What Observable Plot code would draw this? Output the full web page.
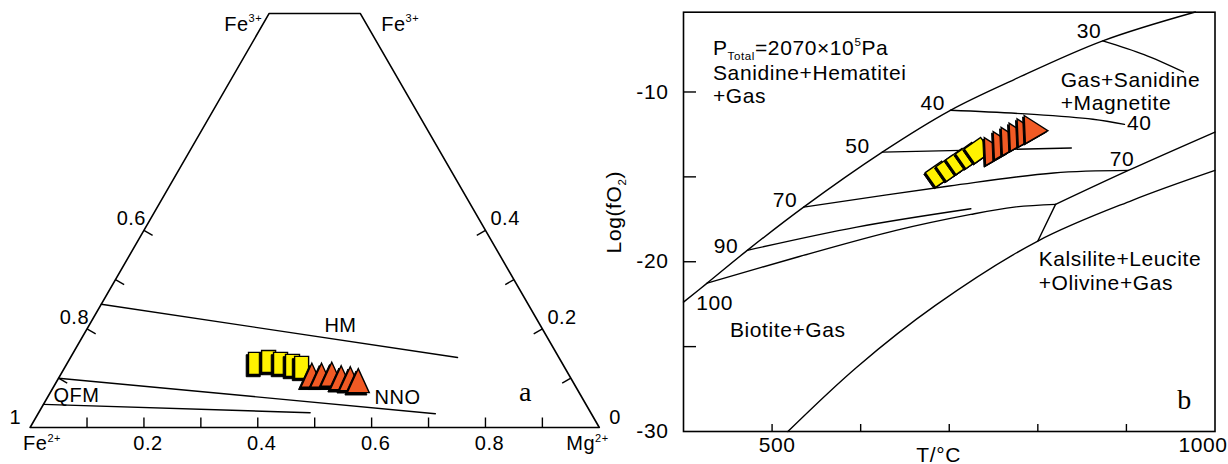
<!DOCTYPE html>
<html><head><meta charset="utf-8">
<script src="https://cdn.jsdelivr.net/npm/d3@7"></script>
<script src="https://cdn.jsdelivr.net/npm/@observablehq/plot@0.6"></script>
<style>
html,body{margin:0;padding:0;background:#fff;}
#wrap{display:flex;width:1228px;height:464px;}
#wrap svg{flex:none;overflow:visible;background:transparent;}
</style></head><body><div id="wrap"></div>
<script>
// ================= Panel a : Fe3+ - Fe2+ - Mg2+ ternary =================
// compositions as (Mg fraction, Fe3+ fraction); Fe2+ = 1 - Mg - Fe3+
const outlineMg  = [0, 1, 0.16, 0, 0];
const outlineFe3 = [0, 0, 0.84, 0.84, 0];
const hmMg  = [0, 0.68],  hmFe3  = [0.25, 0.142];
const nnoMg = [0, 0.698], nnoFe3 = [0.10, 0.028];
const qfmMg = [0, 0.477], qfmFe3 = [0.047, 0.030];
const baseTicks = [0.1,0.2,0.3,0.4,0.5,0.6,0.7,0.8,0.9];
const baseLabelVals = [0.2,0.4,0.6,0.8];
const baseLabels = ["0.2","0.4","0.6","0.8"];
const sideTicks = [0.1,0.2,0.3,0.4];
const sideLabelVals = [0.2,0.4];
const leftLabels = ["0.8","0.6"];
const rightLabels = ["0.2","0.4"];
const sqA_Mg  = [0.331,0.352,0.375,0.398,0.416];
const sqA_Fe3 = [0.130,0.134,0.130,0.126,0.122];
const trA_Mg  = [0.443,0.460,0.477,0.497,0.514,0.530];
const trA_Fe3 = [0.104,0.104,0.106,0.099,0.097,0.093];

// ================= Panel b : T vs log(fO2) =================
const topT = [400,426.7,472,535.6,624.4,701.3,773.3,873.3,977.8];
const topY = [-22.38,-21.26,-19.33,-16.78,-13.54,-11.08,-9.27,-6.99,-5.29];
const iso30T = [873.3,920,964.4],          iso30Y = [-6.99,-7.8,-8.82];
const iso40T = [701.3,795.6,862.2,897.8],  iso40Y = [-11.08,-11.32,-11.61,-11.91];
const iso50T = [624.4,837.8],              iso50Y = [-13.54,-13.30];
const iso70T = [535.6,700,817.8,902.2],    iso70Y = [-16.78,-15.54,-14.77,-14.62];
const iso90T = [472,595.6,724.4],          iso90Y = [-19.33,-17.96,-16.88];
const iso100T = [426.7,528.9,640,724.4,773.3,820], iso100Y = [-21.26,-19.72,-18.15,-17.21,-16.78,-16.62];
const rightT = [820,902.2,1000],           rightY = [-16.62,-14.62,-12.36];
const linkT = [820,800],                   linkY = [-16.62,-18.78];
const lowT = [517.8,595.6,684.4,800,906.7,1000], lowY = [-30,-26.21,-22.57,-18.78,-16.38,-14.62];
const xTicksB = [500,600,700,800,900];
const yTicksB = [-10,-15,-20,-25];
const yLabelValsB = [-10,-20,-30];
const yLabelsB = ["-10","-20","-30"];
const sqB_T = [688,700,711,722,732];
const sqB_Y = [-14.85,-14.5,-14.1,-13.75,-13.45];
const trB_T = [748,758,767,776,785,793];
const trB_Y = [-13.45,-13.1,-12.85,-12.6,-12.35,-12.15];

const YELLOW = "#FFF200", RED = "#F15A24";
const FONT = "'Liberation Sans', Arial, sans-serif";
const SERIF = "'Liberation Serif', 'Times New Roman', serif";

// ---------- helpers ----------
const S3 = Math.sqrt(3) / 2;
const tern = (mg, fe3) => ({mg, fe3});
const zipT = (a, b) => a.map((v, i) => tern(v, b[i]));
const zipP = (a, b) => a.map((v, i) => ({t: v, y: b[i]}));
const TX = d => d.mg + d.fe3 / 2;
const TY = d => d.fe3 * S3;

function poly(pts, deg = 0) {
  const a = deg * Math.PI / 180, c = Math.cos(a), s = Math.sin(a);
  return {draw(ctx) {
    pts.forEach(([x, y], i) => {
      const X = x * c - y * s, Y = x * s + y * c;
      i ? ctx.lineTo(X, Y) : ctx.moveTo(X, Y);
    });
    ctx.closePath();
  }};
}
function stacked(data, x, y, symbol, fill, off) {
  return data.flatMap(d => [
    Plot.dot([d], {x, y, symbol, fill: "black", stroke: "black", strokeWidth: 1, dx: -off, dy: off}),
    Plot.dot([d], {x, y, symbol, fill, stroke: "black", strokeWidth: 1.4})
  ]);
}
function richText(svg) {
  svg.querySelectorAll("text").forEach(t => {
    const s = t.textContent;
    if (!/[\^_]\{/.test(s)) return;
    const fs = parseFloat(getComputedStyle(t).fontSize);
    t.textContent = "";
    const re = /([\^_])\{([^}]*)\}/g;
    let last = 0, m, shift = 0;
    const add = (str, kind) => {
      const ts = document.createElementNS("http://www.w3.org/2000/svg", "tspan");
      const target = kind === "^" ? -0.42 * fs : kind === "_" ? 0.25 * fs : 0;
      if (target !== shift) ts.setAttribute("dy", target - shift);
      shift = target;
      if (kind) ts.setAttribute("font-size", 0.55 * fs);
      ts.textContent = str;
      t.appendChild(ts);
    };
    while ((m = re.exec(s))) {
      if (m.index > last) add(s.slice(last, m.index), null);
      add(m[2], m[1]);
      last = re.lastIndex;
    }
    if (last < s.length) add(s.slice(last), null);
  });
}

// ---------- panel a ----------
const L = 569.2, X0 = 29.6, BASE = 427, TICK = 10 / L;
const squareA = poly([[-7,-11],[7,-11],[7,11],[-7,11]]);
const triA = poly([[0,-13],[11,11],[-11,11]]);
const topLeft = tern(0, 0.84), topRight = tern(0.16, 0.84);

const svgA = Plot.plot({
  width: 620, height: 464, margin: 0,
  x: {domain: [0, 1], range: [X0, X0 + L], axis: null},
  y: {domain: [0, S3], range: [BASE, BASE - L * S3], axis: null},
  style: {fontFamily: FONT, fontSize: "20px", color: "black", background: "transparent", overflow: "visible", letterSpacing: "0.5px"},
  marks: [
    Plot.line(zipT(outlineMg, outlineFe3), {x: TX, y: TY, stroke: "black", strokeWidth: 1.6}),
    Plot.link(baseTicks, {x1: v => v, x2: v => v, y1: 0, y2: TICK, stroke: "black", strokeWidth: 1.4}),
    Plot.link(sideTicks, {x1: v => v / 2, y1: v => v * S3, x2: v => v / 2 + 0.866 * TICK, y2: v => v * S3 - 0.5 * TICK, stroke: "black", strokeWidth: 1.4}),
    Plot.link(sideTicks, {x1: v => 1 - v / 2, y1: v => v * S3, x2: v => 1 - v / 2 - 0.866 * TICK, y2: v => v * S3 - 0.5 * TICK, stroke: "black", strokeWidth: 1.4}),
    Plot.line(zipT(hmMg, hmFe3), {x: TX, y: TY, stroke: "black", strokeWidth: 1.4}),
    Plot.line(zipT(nnoMg, nnoFe3), {x: TX, y: TY, stroke: "black", strokeWidth: 1.4}),
    Plot.line(zipT(qfmMg, qfmFe3), {x: TX, y: TY, stroke: "black", strokeWidth: 1.4}),
    Plot.text(baseLabelVals, {x: v => v, y: 0, text: (v, i) => baseLabels[i], dx: 4, dy: 16}),
    Plot.text(sideLabelVals, {x: v => v / 2, y: v => v * S3, text: (v, i) => leftLabels[i], textAnchor: "end", dx: 2, dy: -11.5}),
    Plot.text(sideLabelVals, {x: v => 1 - v / 2, y: v => v * S3, text: (v, i) => rightLabels[i], textAnchor: "start", dx: 5, dy: -11.5}),
    Plot.text([tern(0, 0)], {x: TX, y: TY, text: ["1"], textAnchor: "end", dx: -9, dy: -10}),
    Plot.text([tern(1, 0)], {x: TX, y: TY, text: ["0"], textAnchor: "start", dx: 10, dy: -10}),
    Plot.text([tern(0, 0)], {x: TX, y: TY, text: ["Fe^{2+}"], textAnchor: "start", dx: -7, dy: 16, fontSize: 20}),
    Plot.text([tern(1, 0)], {x: TX, y: TY, text: ["Mg^{2+}"], textAnchor: "start", dx: -33, dy: 16, fontSize: 20}),
    Plot.text([topLeft], {x: TX, y: TY, text: ["Fe^{3+}"], textAnchor: "end", dx: -7, dy: 11, fontSize: 20}),
    Plot.text([topRight], {x: TX, y: TY, text: ["Fe^{3+}"], textAnchor: "start", dx: 21, dy: 11, fontSize: 20}),
    Plot.text([tern(0.4418, 0.2069)], {x: TX, y: TY, text: ["HM"]}),
    Plot.text([tern(0.6151, 0.0609)], {x: TX, y: TY, text: ["NNO"]}),
    Plot.text([tern(0.0491, 0.0649)], {x: TX, y: TY, text: ["QFM"]}),
    Plot.text([tern(0.8379, 0.0649)], {x: TX, y: TY, text: ["a"], fontFamily: SERIF, fontSize: 28, dy: -3}),
    ...stacked(zipT(sqA_Mg, sqA_Fe3), TX, TY, squareA, YELLOW, 2.3),
    ...stacked(zipT(trA_Mg, trA_Fe3), TX, TY, triA, RED, 2.3)
  ]
});

// ---------- panel b ----------
const squareB = poly([[-10,-9],[10,-9],[10,9],[-10,9]], -35);
const triB = poly([[0,-15],[13,10],[-13,10]], -30);
const lineOpts = {x: "t", y: "y", stroke: "black", strokeWidth: 1.4, curve: "catmull-rom"};

const svgB = Plot.plot({
  width: 608, height: 464,
  marginLeft: 63, marginRight: 13.5, marginTop: 11.7, marginBottom: 33,
  x: {domain: [400, 1000], axis: null},
  y: {domain: [-30, -5.3], axis: null},
  style: {fontFamily: FONT, fontSize: "21px", color: "black", background: "transparent", overflow: "visible", letterSpacing: "0.6px"},
  marks: [
    Plot.frame({stroke: "black", strokeWidth: 1.6}),
    Plot.ruleX(xTicksB, {x: d => d, y1: -30, y2: -30 + 7 / 17, stroke: "black", strokeWidth: 1.4}),
    Plot.ruleY(yTicksB, {y: d => d, x1: 400, x2: 400 + 13 / 0.8858, stroke: "black", strokeWidth: 1.4}),
    Plot.text(yLabelValsB, {x: 400, y: d => d, text: (d, i) => yLabelsB[i], textAnchor: "end", dx: -15}),
    Plot.text([500], {x: d => d, y: -30, text: ["500"], dx: 5, dy: 14}),
    Plot.text([1000], {x: d => d, y: -30, text: ["1000"], dx: -12, dy: 14}),
    Plot.text([688], {x: d => d, y: -30, text: ["T/°C"], dy: 24}),
    Plot.text([-17.08], {x: 400, y: d => d, text: ["Log(fO_{2})"], rotate: -90, dx: -69}),
    Plot.line(zipP(topT, topY), lineOpts),
    Plot.line(zipP(iso30T, iso30Y), lineOpts),
    Plot.line(zipP(iso40T, iso40Y), lineOpts),
    Plot.line(zipP(iso50T, iso50Y), lineOpts),
    Plot.line(zipP(iso70T, iso70Y), lineOpts),
    Plot.line(zipP(iso90T, iso90Y), lineOpts),
    Plot.line(zipP(iso100T, iso100Y), lineOpts),
    Plot.line(zipP(rightT, rightY), lineOpts),
    Plot.line(zipP(linkT, linkY), lineOpts),
    Plot.line(zipP(lowT, lowY), lineOpts),
    Plot.text([{t: 857.8, y: -6.4, s: "30"}, {t: 681.3, y: -10.65, s: "40"}, {t: 596.4, y: -13.18, s: "50"},
               {t: 514.7, y: -16.35, s: "70"}, {t: 448, y: -19.1, s: "90"}, {t: 435.1, y: -22.44, s: "100"},
               {t: 914.5, y: -11.85, s: "40"}, {t: 895.1, y: -13.97, s: "70"}],
              {x: "t", y: "y", text: "s"}),
    Plot.text([{t: 433.3, y: -7.42, s: "P_{Total}=2070×10^{5}Pa"}, {t: 433.3, y: -8.88, s: "Sanidine+Hematitei"},
               {t: 433.3, y: -10.26, s: "+Gas"}, {t: 825.8, y: -9.31, s: "Gas+Sanidine"}, {t: 825.8, y: -10.68, s: "+Magnetite"},
               {t: 800.9, y: -19.88, s: "Kalsilite+Leucite"}, {t: 800.9, y: -21.26, s: "+Olivine+Gas"},
               {t: 452.4, y: -24.05, s: "Biotite+Gas"}],
              {x: "t", y: "y", text: "s", textAnchor: "start"}),
    Plot.text([{t: 965.6, y: -28.14}], {x: "t", y: "y", text: ["b"], fontFamily: SERIF, fontSize: 28}),
    ...stacked(zipP(sqB_T, sqB_Y), "t", "y", squareB, YELLOW, 1.5),
    ...stacked(zipP(trB_T, trB_Y), "t", "y", triB, RED, 1.5)
  ]
});

const wrap = document.getElementById("wrap");
wrap.append(svgA, svgB);
richText(svgA);
richText(svgB);
</script></body></html>
